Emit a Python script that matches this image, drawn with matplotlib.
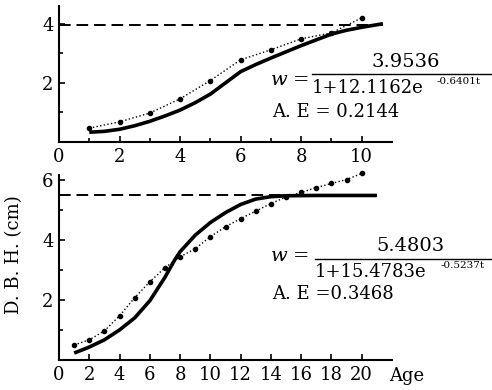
import matplotlib
matplotlib.use("Agg")
import matplotlib.pyplot as plt
from matplotlib.lines import Line2D

plt.rcParams["font.family"] = "DejaVu Serif"
plt.rcParams["mathtext.fontset"] = "dejavuserif"

# upper panel (height)
top_age = [1, 2, 3, 4, 5, 6, 7, 8, 9, 10]
top_obs = [0.47, 0.68, 0.98, 1.46, 2.08, 2.78, 3.12, 3.49, 3.69, 4.2]
top_fit_t = [1, 1.5, 2, 2.5, 3, 3.5, 4, 4.5, 5, 5.5, 6, 6.5, 7, 8, 9, 9.5, 10, 10.7]
top_fit = [0.33, 0.36, 0.43, 0.55, 0.7, 0.88, 1.08, 1.33, 1.62, 2.0, 2.38, 2.62, 2.84, 3.26, 3.65, 3.78, 3.88, 4.0]
top_k = 3.9536

# lower panel (D.B.H.)
bot_age = list(range(1, 21))
bot_obs = [0.5, 0.67, 0.97, 1.47, 2.07, 2.6, 3.07, 3.43, 3.7, 4.1,
           4.43, 4.7, 4.95, 5.2, 5.42, 5.57, 5.73, 5.87, 6.0, 6.2]
bot_fit_t = [1, 2, 3, 4, 5, 6, 7, 7.65, 8, 9, 10, 11, 12, 13, 14, 15, 17, 21]
bot_fit = [0.23, 0.43, 0.67, 1.0, 1.4, 1.97, 2.75, 3.33, 3.6, 4.15, 4.57, 4.9, 5.17, 5.35, 5.43, 5.46, 5.47, 5.47]
bot_k = 5.4803

W, H = 492, 390
fig = plt.figure(figsize=(W / 100, H / 100), dpi=100)


def fx(px):
    return px / W


def fy(py):
    return 1 - py / H


def style(ax):
    for s in ["top", "right"]:
        ax.spines[s].set_visible(False)
    for s in ["left", "bottom"]:
        ax.spines[s].set_linewidth(1.5)
    ax.tick_params(direction="in", length=4, width=1.2, labelsize=13, pad=4)
    ax.tick_params(which="minor", direction="in", length=3, width=1.2)


ax1 = fig.add_axes([fx(59), fy(142), fx(392 - 59), (142 - 6) / H])
ax1.plot(top_age, top_obs, ":", color="black", lw=1.0, marker="o", ms=3, clip_on=False)
ax1.plot(top_fit_t, top_fit, "-", color="black", lw=2.6, solid_capstyle="butt")
ax1.plot([0, 10.7], [top_k, top_k], color="black", lw=1.4, dashes=(6, 3))
ax1.set_xlim(0, 11)
ax1.set_ylim(0, 4.6)
ax1.set_xticks([0, 2, 4, 6, 8, 10])
ax1.set_xticks([1, 3, 5, 7, 9], minor=True)
ax1.set_yticks([2, 4])
ax1.set_yticks([1, 3], minor=True)
style(ax1)

ax2 = fig.add_axes([fx(59), fy(360), fx(392 - 59), (360 - 175) / H])
ax2.plot(bot_age, bot_obs, ":", color="black", lw=1.0, marker="o", ms=3, clip_on=False)
ax2.plot(bot_fit_t, bot_fit, "-", color="black", lw=2.6, solid_capstyle="butt")
ax2.plot([0, 21], [bot_k, bot_k], color="black", lw=1.4, dashes=(6, 3))
ax2.set_xlim(0, 22)
ax2.set_ylim(0, 6.15)
ax2.set_xticks(range(0, 21, 2))
ax2.set_yticks([2, 4, 6])
ax2.set_yticks([1, 3, 5], minor=True)
style(ax2)

# equations
fig.text(fx(270), fy(80), r"$w$ =", fontsize=14, va="center")
fig.text(fx(406), fy(62), "3.9536", fontsize=14, va="center", ha="center")
fig.add_artist(Line2D([fx(312), fx(492)], [fy(74), fy(74)], color="black", lw=1.0))
fig.text(fx(312), fy(88), "1+12.1162e", fontsize=13, va="center")
fig.text(fx(437), fy(82), "-0.6401t", fontsize=7.5, va="center")
fig.text(fx(272), fy(112), "A. E = 0.2144", fontsize=13, va="center")

fig.text(fx(270), fy(256), r"$w$ =", fontsize=14, va="center")
fig.text(fx(410), fy(246), "5.4803", fontsize=14, va="center", ha="center")
fig.add_artist(Line2D([fx(315), fx(492)], [fy(259), fy(259)], color="black", lw=1.0))
fig.text(fx(315), fy(272), "1+15.4783e", fontsize=13, va="center")
fig.text(fx(441), fy(266), "-0.5237t", fontsize=7.5, va="center")
fig.text(fx(272), fy(294), "A. E =0.3468", fontsize=13, va="center")

fig.text(fx(14), fy(255), "D. B. H. (cm)", fontsize=13, rotation=90, va="center", ha="center")
fig.text(fx(407), fy(376), "Age", fontsize=13, va="center", ha="center")

fig.savefig("out.png", dpi=100)
